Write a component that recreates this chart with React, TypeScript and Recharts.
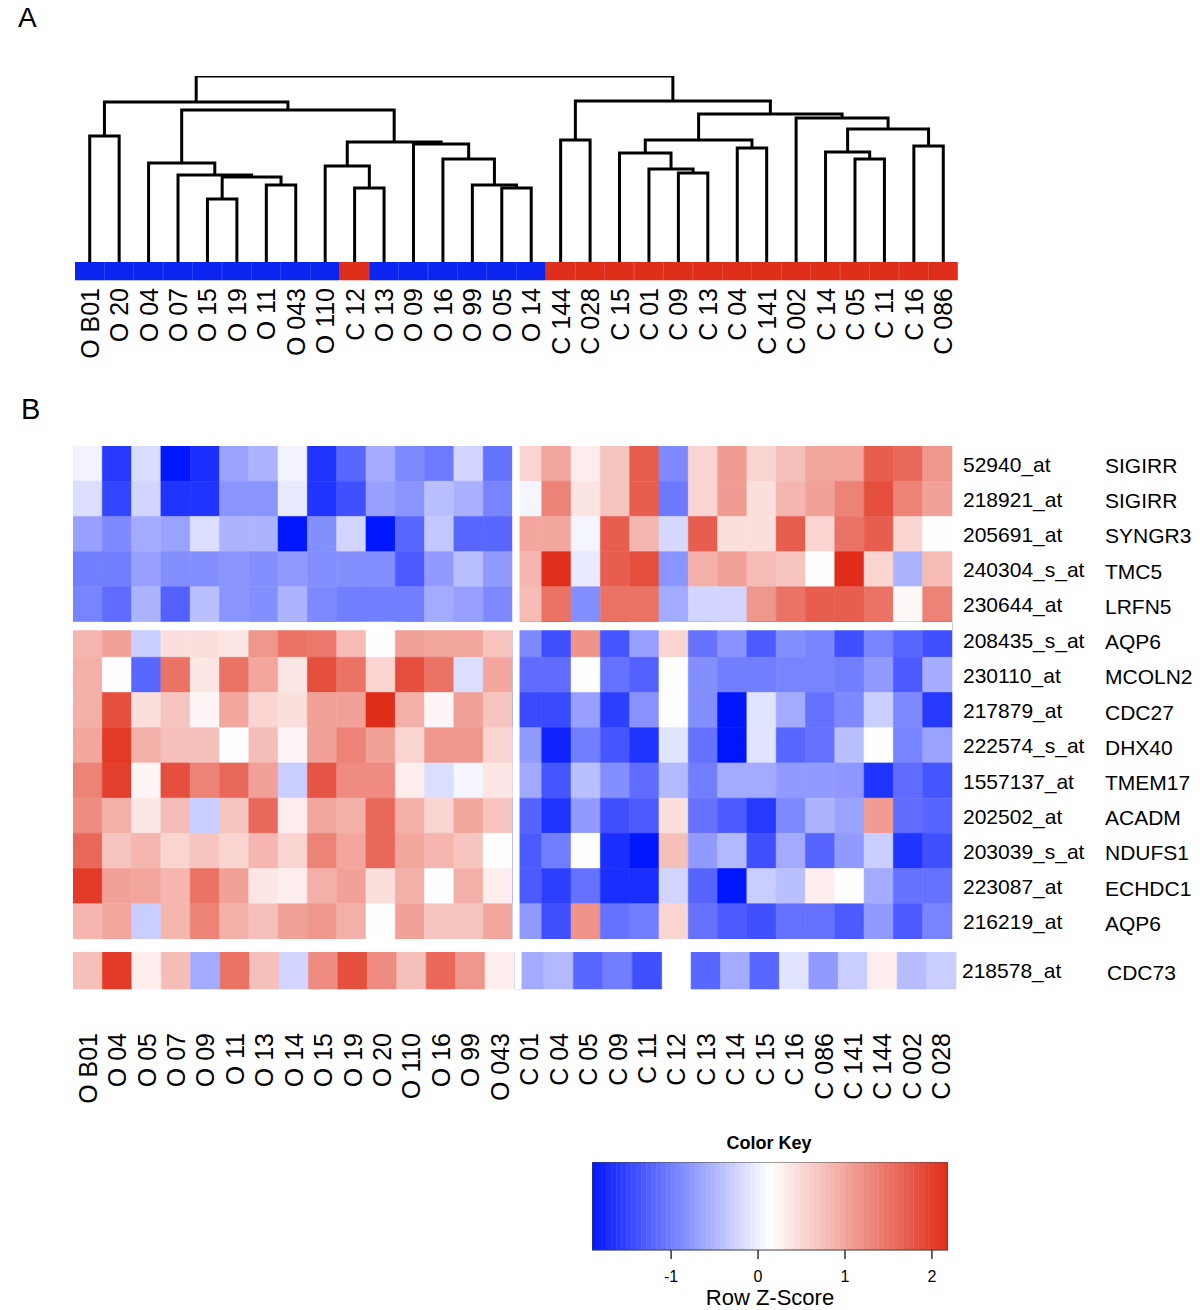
import React from 'react';
import { LineChart, Line, BarChart, Bar, Cell, ComposedChart, XAxis, YAxis, ReferenceArea, Label } from 'recharts';

const FONT = '"Liberation Sans", Arial, Helvetica, sans-serif';

// ---------- Panel A: dendrogram ----------
const leafLabels = ['O B01', 'O 20', 'O 04', 'O 07', 'O 15', 'O 19', 'O 11', 'O 043', 'O 110', 'C 12', 'O 13', 'O 09', 'O 16', 'O 99', 'O 05', 'O 14', 'C 144', 'C 028', 'C 15', 'C 01', 'C 09', 'C 13', 'C 04', 'C 141', 'C 002', 'C 14', 'C 05', 'C 11', 'C 16', 'C 086'];
// hclust-style merge table: negative = leaf (1-based position), positive = earlier merge (1-based)
const mergeA = [-5, -7, 1, -4, -3, -10, -9, -15, -14, -13, -12, 7, 5, -1, 14, -17, -21, -20, -19, -23, 19, -27, -26, -29, 23, -25, 21, 16, 15];
const mergeB = [-6, -8, 2, 3, 4, -11, 6, -16, 8, 9, 10, 11, 12, -2, 13, -18, -22, 17, 18, -24, 20, -28, 22, -30, 24, 25, 26, 27, 28];
const mergeHeight = [63, 77, 85, 87, 99, 74, 96, 74, 77, 103, 118, 120, 152, 126, 160, 122, 89, 93, 109, 114, 122, 103, 110, 116, 133, 144, 148, 161, 186];

const groupColor: Record<string, string> = { O: '#0b24f0', C: '#df2f1b' };

// ---------- Panel B: heatmap ----------
const heatCols = ['O B01', 'O 04', 'O 05', 'O 07', 'O 09', 'O 11', 'O 13', 'O 14', 'O 15', 'O 19', 'O 20', 'O 110', 'O 16', 'O 99', 'O 043', 'C 01', 'C 04', 'C 05', 'C 09', 'C 11', 'C 12', 'C 13', 'C 14', 'C 15', 'C 16', 'C 086', 'C 141', 'C 144', 'C 002', 'C 028'];
const probes = ['52940_at', '218921_at', '205691_at', '240304_s_at', '230644_at', '208435_s_at', '230110_at', '217879_at', '222574_s_at', '1557137_at', '202502_at', '203039_s_at', '223087_at', '216219_at'];
const genes = ['SIGIRR', 'SIGIRR', 'SYNGR3', 'TMC5', 'LRFN5', 'AQP6', 'MCOLN2', 'CDC27', 'DHX40', 'TMEM17', 'ACADM', 'NDUFS1', 'ECHDC1', 'AQP6'];

const z52940 = [0.03, -1.6, -0.17, -1.9, -1.7, -0.68, -0.52, 0.03, -1.65, -1.2, -0.58, -0.89, -1.03, -0.23, -1.1, 0.55, 1.0, 0.3, 0.7, 1.7, -0.9, 0.55, 1.1, 0.55, 0.75, 1.0, 1.0, 1.7, 1.6, 1.15];
const z218921 = [-0.15, -1.5, -0.23, -1.65, -1.65, -0.8, -0.8, -0.05, -1.65, -1.4, -0.7, -0.8, -0.42, -0.55, -0.95, 0.05, 1.35, 0.4, 0.7, 1.7, -1.05, 0.55, 1.1, 0.45, 0.85, 1.05, 1.35, 1.85, 1.35, 1.05];
const z205691 = [-0.7, -0.89, -0.6, -0.68, -0.15, -0.52, -0.52, -1.9, -0.85, -0.23, -1.9, -1.2, -0.35, -1.2, -1.2, 1.0, 1.0, 0.05, 1.7, 0.85, -0.2, 1.7, 0.45, 0.45, 1.7, 0.55, 1.5, 1.7, 0.55, 0.13];
const z240304 = [-1.0, -1.0, -0.7, -0.85, -0.85, -0.8, -0.85, -0.75, -0.85, -0.85, -0.85, -1.3, -0.75, -0.42, -0.75, 0.85, 2.15, -0.05, 1.7, 1.85, -0.8, 0.9, 1.05, 0.8, 0.7, 0.13, 2.18, 0.55, -0.52, 0.8];
const z230644 = [-0.95, -1.15, -0.52, -1.25, -0.42, -0.8, -0.85, -0.52, -0.9, -1.0, -1.0, -1.0, -0.6, -0.7, -0.9, 0.8, 1.5, -0.85, 1.5, 1.5, -0.6, -0.23, -0.23, 1.15, 1.5, 1.7, 1.7, 1.5, 0.2, 1.35];
const z208435 = [0.85, 1.05, -0.3, 0.45, 0.45, 0.38, 1.15, 1.5, 1.45, 0.8, 0.13, 1.05, 1.0, 1.0, 0.7, -0.9, -1.4, 1.2, -1.35, -0.7, 0.55, -1.1, -0.82, -1.3, -0.85, -0.95, -1.4, -0.95, -1.2, -1.4];
const z230110 = [0.9, 0.13, -1.2, 1.5, 0.38, 1.5, 1.0, 0.38, 1.85, 1.5, 0.55, 1.85, 1.5, -0.15, 1.0, -1.15, -1.15, 0.13, -1.1, -1.25, 0.13, -0.85, -1.0, -1.0, -0.95, -0.95, -1.0, -0.75, -1.3, -0.58];
const z217879 = [0.9, 1.85, 0.45, 0.7, 0.22, 1.0, 0.55, 0.45, 1.05, 1.05, 2.18, 0.9, 0.22, 1.05, 0.7, -1.45, -1.45, -0.7, -1.55, -0.82, 0.13, -0.85, -1.9, -0.1, -0.6, -1.1, -0.9, -0.28, -0.9, -1.6];
const z222574 = [1.0, 2.05, 0.9, 0.75, 0.75, 0.13, 0.78, 0.22, 1.05, 1.35, 1.05, 0.55, 1.15, 1.15, 0.55, -0.75, -1.8, -1.0, -1.35, -1.65, -0.1, -1.1, -1.91, -0.1, -1.2, -1.1, -0.42, 0.13, -0.95, -0.68];
const z1557137 = [1.35, 2.0, 0.22, 1.85, 1.35, 1.6, 1.05, -0.3, 1.8, 1.25, 1.25, 0.3, -0.15, 0.05, 0.38, -0.62, -1.35, -0.42, -0.85, -1.15, -0.48, -1.0, -0.6, -0.6, -0.75, -0.75, -0.78, -1.65, -1.15, -1.35];
const z202502 = [1.25, 0.9, 0.38, 0.78, -0.3, 0.7, 1.6, 0.3, 1.0, 0.9, 1.6, 0.9, 0.55, 1.0, 0.7, -1.22, -1.65, -0.75, -1.4, -1.3, 0.45, -1.1, -1.3, -1.6, -0.9, -0.52, -0.68, 1.1, -1.15, -1.22];
const z203039 = [1.6, 0.7, 0.85, 0.55, 0.7, 0.55, 0.85, 0.55, 1.35, 1.0, 1.6, 1.0, 0.85, 0.7, 0.13, -1.3, -1.0, 0.13, -1.7, -1.9, 0.75, -0.75, -0.48, -1.4, -0.6, -1.22, -0.75, -0.3, -1.65, -1.4];
const z223087 = [2.05, 1.05, 1.0, 0.85, 1.5, 1.05, 0.38, 0.3, 0.9, 1.05, 0.45, 0.9, 0.13, 0.9, 0.3, -1.3, -1.55, -1.1, -1.7, -1.7, -0.23, -1.22, -1.9, -0.3, -0.42, 0.3, 0.13, -0.6, -1.1, -1.1];
const z216219 = [0.85, 1.0, -0.3, 0.85, 1.35, 0.9, 0.75, 1.05, 1.15, 0.9, 0.13, 1.05, 0.7, 0.7, 1.0, -0.75, -1.4, 1.2, -1.1, -1.0, 0.55, -1.1, -1.3, -1.4, -1.1, -1.1, -1.3, -0.75, -1.3, -0.95];
const heatRows = [z52940, z218921, z205691, z240304, z230644, z208435, z230110, z217879, z222574, z1557137, z202502, z203039, z223087, z216219];

const extraProbe = ['218578_at'];
const extraGene = ['CDC73'];
const z218578: (number | null)[] = [0.75, 2.05, 0.3, 0.78, -0.6, 1.5, 0.75, -0.23, 1.25, 1.85, 1.25, 0.75, 1.6, 1.15, 0.3, -0.6, -0.48, -1.2, -1.0, -1.4, null, -1.2, -0.6, -1.2, -0.1, -0.75, -0.3, 0.3, -0.45, -0.3];

// Color key
const ZMIN = -1.91;
const ZMAX = 2.185;
const keyTicks = [-1, 0, 1, 2];

const LOW = [0, 22, 255];
const MID = [255, 255, 255];
const HIGH = [224, 44, 24];
function zColor(v: number): string {
  const mid = (ZMIN + ZMAX) / 2;
  let c: number[];
  if (v <= mid) {
    const t = Math.min(1, (mid - v) / (mid - ZMIN));
    c = MID.map((m, k) => m + (LOW[k] - m) * t);
  } else {
    const t = Math.min(1, (v - mid) / (ZMAX - mid));
    c = MID.map((m, k) => m + (HIGH[k] - m) * t);
  }
  return `rgb(${c.map((x) => Math.round(x)).join(',')})`;
}

// dendrogram link polylines
const nodeX: number[] = [];
const links = mergeA.map((a, i) => {
  const pos = (ref: number) => (ref < 0 ? { x: -ref - 1, h: 0 } : { x: nodeX[ref - 1], h: mergeHeight[ref - 1] });
  const L = pos(a);
  const R = pos(mergeB[i]);
  nodeX[i] = (L.x + R.x) / 2;
  const h = mergeHeight[i];
  return [
    { x: L.x, y: L.h },
    { x: L.x, y: h },
    { x: R.x, y: h },
    { x: R.x, y: R.h },
  ];
});

const leafData = leafLabels.map((name) => ({ name, v: 1, g: name.charAt(0) }));

const RotTick = (props: any) => {
  const { x, y, payload, labels } = props;
  const text = labels ? labels[Math.floor(payload.value)] : payload.value;
  return (
    <text x={x} y={y} transform={`rotate(-90, ${x}, ${y})`} textAnchor="end" dy="0.36em" fontSize={25} fontFamily={FONT} fill="#000">
      {text}
    </text>
  );
};

const RowTick = (props: any) => {
  const { x, y, payload, probeList, geneList, dxProbe, dxGene } = props;
  const i = Math.floor(payload.value);
  return (
    <g>
      <text x={x + dxProbe} y={y} dy="0.38em" textAnchor="start" fontSize={21} fontFamily={FONT} fill="#000">
        {probeList[i]}
      </text>
      <text x={x + dxGene} y={y} dy="0.45em" textAnchor="start" fontSize={21} fontFamily={FONT} fill="#000">
        {geneList[i]}
      </text>
    </g>
  );
};

const abs = (left: number, top: number): React.CSSProperties => ({ position: 'absolute', left, top });

export default function App() {
  const colCenters = heatCols.map((_, i) => i + 0.5);
  const rowCenters = probes.map((_, i) => i + 0.5);
  const colData = heatCols.map((name, i) => ({ name, x: i + 0.5 }));
  const keyData = keyTicks.map((t) => ({ x: t, y: 0.5 }));
  const nBins = 72;
  const binW = (ZMAX - ZMIN) / nBins;
  const bins = Array.from({ length: nBins }, (_, i) => ZMIN + i * binW);

  return (
    <div style={{ position: 'relative', marginLeft: -8, marginTop: -8, width: 1200, height: 1310, background: '#fff', fontFamily: FONT }}>
      <div style={{ ...abs(18, 2), fontSize: 28, lineHeight: '31px', color: '#000' }}>A</div>
      <div style={{ ...abs(21, 394), fontSize: 29, lineHeight: '31px', color: '#000' }}>B</div>

      {/* dendrogram */}
      <div style={abs(74.5, 72)}>
        <LineChart width={883} height={190} margin={{ top: 4, right: 0, bottom: 0, left: 0 }}>
          <XAxis type="number" dataKey="x" hide domain={[-0.5, 29.5]} allowDataOverflow />
          <YAxis type="number" hide domain={[0, 186]} allowDataOverflow />
          {links.map((d, i) => (
            <Line key={i} data={d} dataKey="y" type="linear" stroke="#000" strokeWidth={3} dot={false} activeDot={false} isAnimationActive={false} />
          ))}
        </LineChart>
      </div>

      {/* group colour bar + leaf labels */}
      <div style={abs(74.5, 262)}>
        <BarChart width={883} height={110} data={leafData} margin={{ top: 0, right: 0, bottom: 0, left: 0 }} barCategoryGap={0} barGap={0}>
          <XAxis dataKey="name" interval={0} tickLine={false} axisLine={false} tickSize={0} tickMargin={8} height={92} tick={<RotTick />} />
          <YAxis hide domain={[0, 1]} />
          <Bar dataKey="v" isAnimationActive={false}>
            {leafData.map((d, i) => (
              <Cell key={i} fill={groupColor[d.g]} stroke={groupColor[d.g]} strokeWidth={0.6} />
            ))}
          </Bar>
        </BarChart>
      </div>

      {/* heatmap main */}
      <div style={abs(73, 446)}>
        <ComposedChart width={1120} height={493} data={colData} margin={{ top: 0, right: 0, bottom: 0, left: 0 }}>
          <XAxis type="number" dataKey="x" hide domain={[0, 30]} allowDataOverflow />
          <YAxis
            type="number"
            orientation="right"
            reversed
            domain={[0, 14]}
            allowDataOverflow
            width={241}
            ticks={rowCenters}
            interval={0}
            tickLine={false}
            axisLine={false}
            tickSize={0}
            tickMargin={0}
            tick={<RowTick probeList={probes} geneList={genes} dxProbe={11} dxGene={153} />}
          />
          {heatRows.map((row, r) =>
            row.map((v, c) => {
              const col = zColor(v);
              return (
                <ReferenceArea key={`${r}-${c}`} x1={c} x2={c + 1} y1={r} y2={r + 1} fill={col} fillOpacity={1} stroke={col} strokeWidth={0.6} ifOverflow="visible" />
              );
            })
          )}
          <ReferenceArea x1={15} x2={15.24} y1={0} y2={14} fill="#fff" fillOpacity={1} stroke="none" ifOverflow="visible" />
          <ReferenceArea x1={0} x2={30} y1={5} y2={5.23} fill="#fff" fillOpacity={1} stroke="none" ifOverflow="visible" />
        </ComposedChart>
      </div>

      {/* heatmap extra row + column labels */}
      <div style={abs(73, 952)}>
        <ComposedChart width={1120} height={157} data={colData} margin={{ top: 0, right: 0, bottom: 0, left: 0 }}>
          <XAxis
            type="number"
            dataKey="x"
            domain={[0, 30]}
            allowDataOverflow
            ticks={colCenters}
            interval={0}
            tickLine={false}
            axisLine={false}
            tickSize={0}
            tickMargin={44}
            height={120}
            tick={<RotTick labels={heatCols} />}
          />
          <YAxis
            type="number"
            orientation="right"
            reversed
            domain={[0, 1]}
            allowDataOverflow
            width={237}
            ticks={[0.5]}
            interval={0}
            tickLine={false}
            axisLine={false}
            tickSize={0}
            tickMargin={0}
            tick={<RowTick probeList={extraProbe} geneList={extraGene} dxProbe={6} dxGene={151} />}
          />
          {z218578.map((v, c) => {
            if (v === null) return null;
            const col = zColor(v);
            return <ReferenceArea key={c} x1={c} x2={c + 1} y1={0} y2={1} fill={col} fillOpacity={1} stroke={col} strokeWidth={0.6} ifOverflow="visible" />;
          })}
          <ReferenceArea x1={15} x2={15.24} y1={0} y2={1} fill="#fff" fillOpacity={1} stroke="none" ifOverflow="visible" />
        </ComposedChart>
      </div>

      {/* colour key */}
      <div style={{ ...abs(669, 1131), width: 200, textAlign: 'center', fontSize: 18, fontWeight: 'bold', lineHeight: '24px', color: '#000' }}>Color Key</div>
      <div style={abs(592, 1162)}>
        <ComposedChart width={356} height={148} data={keyData} margin={{ top: 0, right: 0, bottom: 0, left: 0 }}>
          <XAxis
            type="number"
            dataKey="x"
            domain={[ZMIN, ZMAX]}
            allowDataOverflow
            ticks={keyTicks}
            interval={0}
            axisLine={false}
            tickSize={9}
            tickMargin={12}
            height={60}
            tickLine={{ stroke: '#333', strokeWidth: 1.5 }}
            tick={{ fontSize: 16, fill: '#000', fontFamily: FONT }}
          >
            <Label value="Row Z-Score" position="insideBottom" offset={5} style={{ fontSize: 22, fill: '#000', fontFamily: FONT }} />
          </XAxis>
          <YAxis type="number" dataKey="y" hide domain={[0, 1]} allowDataOverflow />
          {bins.map((b, i) => {
            const col = zColor(b + binW / 2);
            return <ReferenceArea key={i} x1={b} x2={b + binW} y1={0} y2={1} fill={col} fillOpacity={1} stroke={col} strokeWidth={0.5} ifOverflow="visible" />;
          })}
          <ReferenceArea x1={ZMIN} x2={ZMAX} y1={0} y2={1} fill="none" fillOpacity={0} stroke="#444" strokeWidth={1} ifOverflow="visible" />
        </ComposedChart>
      </div>
    </div>
  );
}
